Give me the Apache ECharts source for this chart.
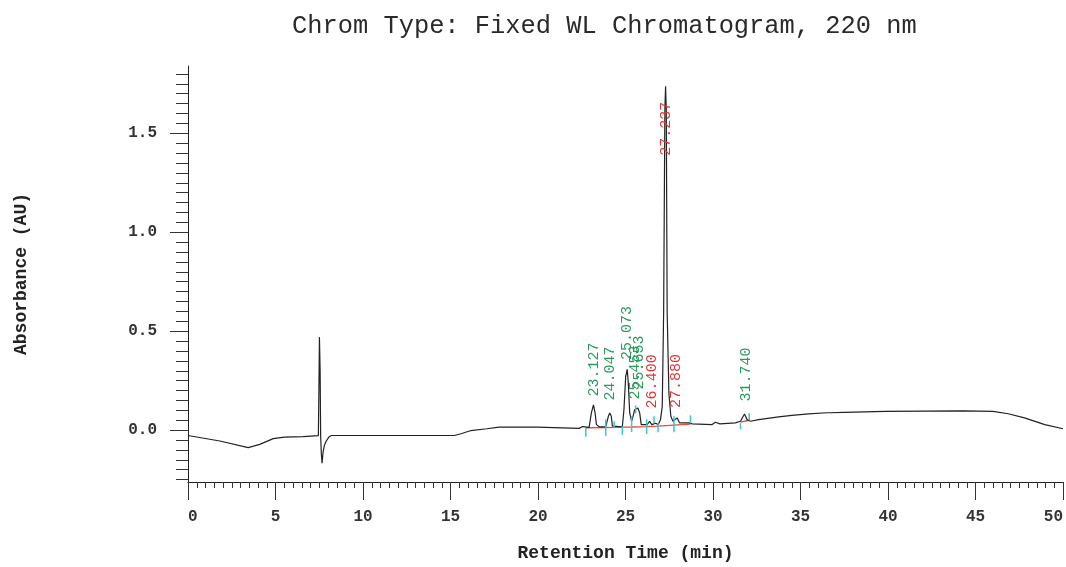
<!DOCTYPE html>
<html>
<head>
<meta charset="utf-8">
<script src="https://cdn.jsdelivr.net/npm/echarts@6/dist/echarts.min.js"></script>
<style>html,body{margin:0;padding:0;background:#fff}#c{width:1066px;height:567px}</style>
</head>
<body>
<div id="c"></div>
<script>
// ---- data ----
const traceTime = [0, 1.82, 3.44, 4.1, 4.87, 5.5, 6.58, 6.6, 7.45, 7.48, 7.51, 7.55, 7.58, 7.62, 7.66, 7.72, 7.8, 7.9, 8.05, 8.2,
  15.22, 15.6, 16.17, 17.07, 17.79, 19.97, 20.0, 22.35, 22.45, 22.55, 22.65, 22.92, 23.05, 23.17, 23.26, 23.34, 23.5,
  23.87, 24.02, 24.1, 24.19, 24.25, 24.82, 24.91, 25.01, 25.1, 25.16, 25.24, 25.35, 25.43, 25.52, 25.6, 25.71, 25.81, 25.9,
  26.24, 26.38, 26.5, 26.72, 26.87, 27.0, 27.1, 27.18, 27.25, 27.29, 27.33, 27.38, 27.48, 27.59, 27.71, 27.95, 28.09,
  28.5, 28.58, 28.66, 28.81, 29.95, 30.14, 30.4, 31.28, 31.57, 31.8, 31.95, 32.14, 32.61, 33.75, 34.51, 35.46, 36.5, 36.6,
  36.7, 37.5, 39.83, 44.3, 46.0, 46.87, 47.8, 48.96, 50];
const traceAbs = [-0.027, -0.055, -0.088, -0.072, -0.043, -0.035, -0.033, -0.029, -0.028, 0.2, 0.47, 0.3, -0.03, -0.12, -0.167, -0.11, -0.075, -0.055, -0.035, -0.027,
  -0.027, -0.018, -0.002, 0.007, 0.015, 0.015, 0.009, 0.009, 0.018, 0.018, 0.012, 0.014, 0.087, 0.128, 0.087, 0.028, 0.017,
  0.017, 0.07, 0.087, 0.07, 0.02, 0.017, 0.103, 0.27, 0.307, 0.237, 0.087, 0.045, 0.07, 0.103, 0.095, 0.112, 0.087, 0.028,
  0.028, 0.045, 0.028, 0.035, 0.028, 0.053, 0.12, 0.6, 1.62, 1.737, 1.62, 0.6, 0.187, 0.07, 0.045, 0.062, 0.037,
  0.037, 0.045, 0.037, 0.032, 0.028, 0.04, 0.032, 0.037, 0.045, 0.082, 0.053, 0.045, 0.053, 0.067, 0.075, 0.082, 0.088, 0.093,
  0.088, 0.09, 0.095, 0.097, 0.095, 0.083, 0.062, 0.028, 0.007];

// integration baselines (red)
const base1Time = [22.73, 23.87, 24.35, 24.82, 25.35, 26.21, 26.86, 27.77, 28.71];
const base1Abs  = [0.012, 0.013, 0.014, 0.015, 0.016, 0.018, 0.02, 0.025, 0.03];
const base2Time = [31.57, 32.07];
const base2Abs  = [0.04, 0.05];

// peak start/end markers (cyan)
const markTime = [22.73, 23.87, 24.35, 24.82, 25.35, 25.58, 26.21, 26.63, 26.86, 27.77, 28.71, 31.57, 32.07];
const markHigh = [0.012, 0.055, 0.045, 0.02, 0.07, 0.125, 0.055, 0.07, 0.035, 0.07, 0.075, 0.035, 0.085];
const markLow  = [-0.033, -0.03, 0.01, -0.025, -0.01, 0.085, -0.02, 0.035, -0.01, -0.01, 0.035, 0.005, 0.05];

// peak labels
const peakLabels = ['23.127', '24.047', '25.073', '25.453', '25.653', '26.400', '27.237', '27.880', '31.740'];
const peakLabelTime = [23.20, 24.10, 25.10, 25.54, 25.77, 26.51, 27.29, 27.90, 31.89];
const peakLabelAbs  = [0.17, 0.15, 0.355, 0.155, 0.205, 0.11, 1.387, 0.112, 0.145];
const peakLabelKind = ['g', 'g', 'g', 'g', 'g', 'r', 'r', 'r', 'g'];

const xTicks = [0, 5, 10, 15, 20, 25, 30, 35, 40, 45, 50];
const yMajorTicks = [0.0, 0.5, 1.0, 1.5];
const yMinorTicks = [];
for (let i = -5; i <= 36; i++) yMinorTicks.push(+(i * 0.05).toFixed(2));

// ---- chart ----
const FONT = 'Liberation Mono';
const zip = (a, b) => a.map((v, i) => [v, b[i]]);
const chart = echarts.init(document.getElementById('c'), null, {renderer: 'canvas'});
const yMin = -0.262, yMax = 1.84;

const option = {
  animation: false,
  backgroundColor: '#fff',
  title: {
    text: 'Chrom Type: Fixed WL Chromatogram, 220 nm',
    left: 287, top: 9,
    textStyle: {fontFamily: FONT, fontSize: 25.4, fontWeight: 'normal', color: '#2a2a2a'}
  },
  grid: {left: 188, right: 1, top: 66, bottom: 81},
  xAxis: {
    type: 'value', min: xTicks[0], max: xTicks[xTicks.length - 1], interval: 5,
    axisLine: {show: true, onZero: false, lineStyle: {color: '#222', width: 1}},
    axisTick: {show: true, length: 18, lineStyle: {color: '#333'}},
    minorTick: {show: true, splitNumber: 10, length: 6, lineStyle: {color: '#333'}},
    splitLine: {show: false}, minorSplitLine: {show: false},
    axisLabel: {margin: 27, fontFamily: FONT, fontSize: 16, fontWeight: 'bold', color: '#333', alignMinLabel: 'left', alignMaxLabel: 'right'},
    name: 'Retention Time (min)', nameLocation: 'middle', nameGap: 62,
    nameTextStyle: {fontFamily: FONT, fontSize: 18, fontWeight: 'bold', color: '#222'}
  },
  yAxis: [{
    type: 'value', min: yMin, max: yMax, position: 'left',
    axisLine: {show: true, onZero: false, lineStyle: {color: '#222', width: 1}},
    axisTick: {show: true, length: 18, customValues: yMajorTicks, lineStyle: {color: '#333'}},
    axisLabel: {customValues: yMajorTicks, formatter: v => v.toFixed(1), margin: 31, fontFamily: FONT, fontSize: 16, fontWeight: 'bold', color: '#333'},
    splitLine: {show: false},
    name: 'Absorbance (AU)', nameLocation: 'middle', nameGap: 158,
    nameTextStyle: {fontFamily: FONT, fontSize: 18, fontWeight: 'bold', color: '#222'}
  }, {
    type: 'value', min: yMin, max: yMax, position: 'left',
    axisLine: {show: false, onZero: false},
    axisTick: {show: true, length: 12, customValues: yMinorTicks, lineStyle: {color: '#333'}},
    axisLabel: {show: false},
    splitLine: {show: false}
  }],
  series: [
    {
      type: 'line', data: zip(traceTime, traceAbs), showSymbol: false, symbol: 'none',
      lineStyle: {color: '#222', width: 1.2}, z: 3, silent: true
    },
    {
      type: 'line', data: zip(base1Time, base1Abs), showSymbol: false, symbol: 'none',
      lineStyle: {color: '#ea4a32', width: 1.3}, z: 2, silent: true
    },
    {
      type: 'line', data: zip(base2Time, base2Abs), showSymbol: false, symbol: 'none',
      lineStyle: {color: '#ea4a32', width: 1.3}, z: 2, silent: true
    },
    {
      type: 'custom', z: 4, silent: true,
      data: markTime.map((t, i) => [t, markLow[i], markHigh[i]]),
      renderItem: function (params, api) {
        const p1 = api.coord([api.value(0), api.value(1)]);
        const p2 = api.coord([api.value(0), api.value(2)]);
        return {type: 'line', shape: {x1: p1[0], y1: p1[1], x2: p2[0], y2: p2[1]},
          style: {stroke: '#3cc6d2', lineWidth: 1.5}};
      }
    },
    {
      type: 'custom', z: 5, silent: true,
      data: zip(peakLabelTime, peakLabelAbs),
      renderItem: function (params, api) {
        const p = api.coord([api.value(0), api.value(1)]);
        const i = params.dataIndex;
        return {type: 'text', x: p[0], y: p[1], rotation: Math.PI / 2,
          style: {text: peakLabels[i], fill: peakLabelKind[i] === 'g' ? '#2a9a5e' : '#d93a3a',
            fontFamily: FONT, fontSize: 15, align: 'left', verticalAlign: 'middle'}};
      }
    }
  ]
};
chart.setOption(option);
</script>
</body>
</html>
